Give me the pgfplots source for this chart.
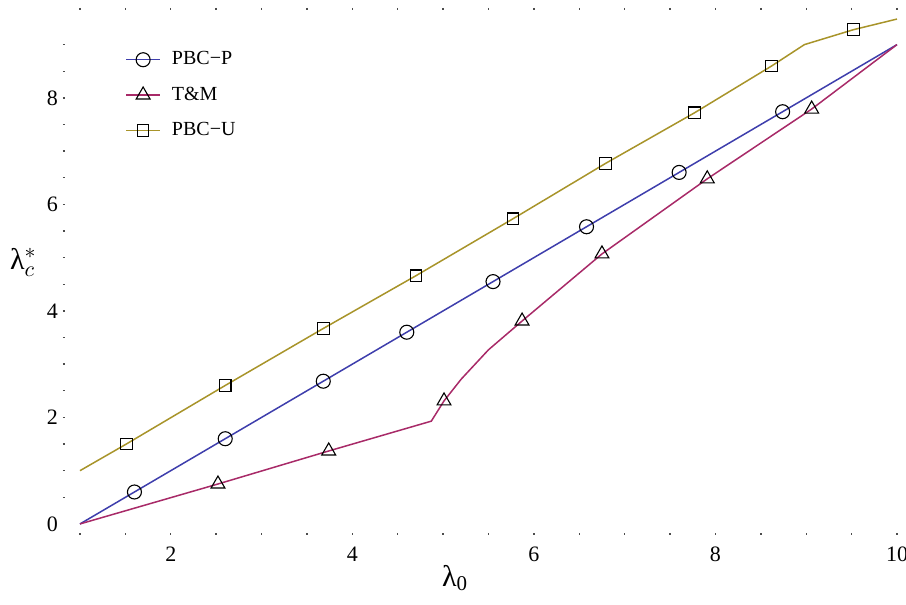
\documentclass[border=0pt]{standalone}
\usepackage{fontspec}
\setmainfont{Liberation Serif}
\usepackage{pgfplots}
\pgfplotsset{compat=1.18}
\definecolor{cblue}{RGB}{62,62,172}
\definecolor{cmag}{RGB}{168,42,104}
\definecolor{colive}{RGB}{168,148,42}
\tikzset{mk/.style={black, fill=white, line width=0.55pt, preaction={draw=white, line width=2.5pt}}}
\begin{document}
\begin{tikzpicture}
\path[use as bounding box] (-32.5pt,-36pt) rectangle (420.5pt,266.5pt);
\begin{axis}[
  at={(0pt,0pt)}, anchor=south west,
  scale only axis, width=416pt, height=261.5pt,
  xmin=0.835, xmax=10, ymin=-0.17, ymax=9.65,
  clip=false,
  axis line style={draw=none},
  xtick={2,4,6,8,10}, ytick={0,2,4,6,8},
  major tick length=0pt,
  minor xtick={1,1.5,...,10}, minor ytick={0.5,1,...,9},
  minor tick length=1pt,
  minor tick style={line width=0.7pt, black!70},
  xtick pos=both, ytick pos=left,
  tick align=outside,
  xticklabel pos=bottom,
  /pgf/number format/assume math mode=true,
  tick label style={font=\fontsize{11}{13}\selectfont},
  xticklabel style={yshift=-3.5pt},
  xlabel={λ\textsubscript{0}},
  xlabel style={at={(axis description cs:0.469,-0.086)}, anchor=center, font=\fontsize{15}{17}\selectfont},
  ylabel={λ$_{c}^{*}$},
  ylabel style={rotate=-90, at={(axis description cs:-0.05,0.518)}, anchor=center, font=\fontsize{15}{17}\selectfont},
  legend style={draw=none, fill=none, at={(axis description cs:0.072,0.925)}, anchor=north west,
    font=\fontsize{10}{12}\selectfont, row sep=7.5pt, inner sep=0pt, column sep=0pt,
    nodes={inner sep=1pt}, /tikz/column 1/.style={column sep=4.5pt}},
  legend cell align=left,
  every axis plot/.append style={line width=0.75pt},
]
\addlegendimage{cblue, line width=0.75pt, mark=o, mark size=3.5pt, mark options={mk}}
\addlegendentry{PBC−P}
\addlegendimage{cmag, line width=0.75pt, mark=triangle, mark size=4pt, mark options={mk}}
\addlegendentry{T\&M}
\addlegendimage{colive, line width=0.75pt, mark=square, mark size=2.9pt, mark options={mk}}
\addlegendentry{PBC−U}
\addplot[forget plot, cblue, mark=o, mark size=3.5pt, mark indices={2,3,4,5,6,7,8,9},
  mark options={mk}] coordinates {
  (1,0) (1.6,0.6) (2.6,1.6) (3.68,2.68) (4.6,3.6) (5.55,4.55) (6.58,5.58) (7.6,6.6) (8.74,7.74) (10,9)
};
\addplot[forget plot, cmag, mark=triangle, mark size=4pt, mark indices={2,3,5,8,9,10,11},
  mark options={mk}] coordinates {
  (1,0) (2.52,0.75) (3.74,1.37) (4.87,1.93) (5.01,2.31) (5.2,2.72) (5.5,3.27) (5.87,3.81) (6.75,5.07) (7.91,6.48) (9.06,7.79) (10,9)
};
\addplot[forget plot, colive, mark=square, mark size=2.9pt, mark indices={2,3,4,5,6,7,8,9,11},
  mark options={mk}] coordinates {
  (1,1) (1.51,1.5) (2.6,2.6) (3.68,3.67) (4.7,4.66) (5.77,5.73) (6.79,6.77) (7.77,7.72) (8.62,8.6) (8.98,9.0) (9.52,9.28) (10,9.48)
};
\end{axis}
\end{tikzpicture}
\end{document}
